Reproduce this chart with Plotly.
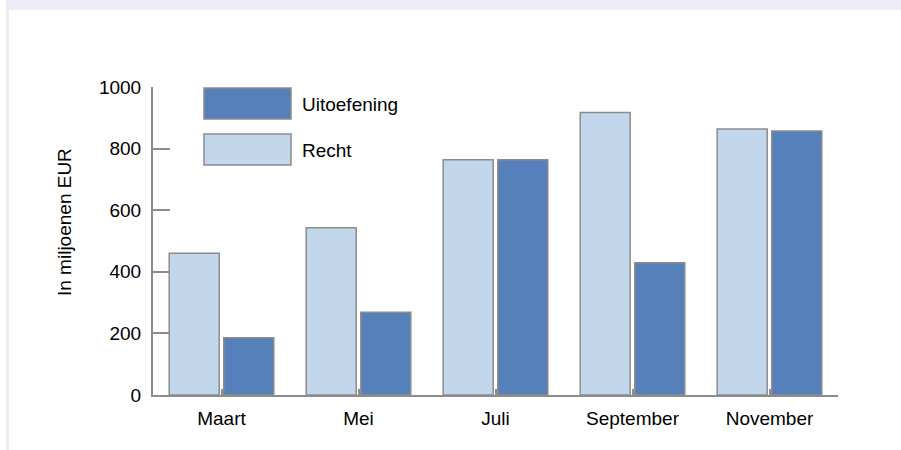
import plotly.graph_objects as go

categories = ["Maart", "Mei", "Juli", "September", "November"]
recht = [460, 543, 764, 917, 864]
uitoefening = [186, 269, 764, 429, 857]
y_ticks = [0, 200, 400, 600, 800, 1000]

W, H = 901, 450
L, R, T, B = 153, 63, 87, 55
pw, ph = W - L - R, H - T - B

def px(x):
    return (x - L) / pw

def py(y):
    return (H - B - y) / ph

c_recht = "#C3D7EC"
c_uit = "#5580BA"
edge = "#8C8C8C"
FS = 19

fig = go.Figure()
fig.add_trace(go.Bar(x=categories, y=recht, name="Recht", marker=dict(color=c_recht, line=dict(color=edge, width=1.5))))
fig.add_trace(go.Bar(x=categories, y=uitoefening, name="Uitoefening", marker=dict(color=c_uit, line=dict(color=edge, width=1.5))))

shapes = [
    dict(type="rect", xref="paper", yref="paper", x0=px(6), x1=px(901), y0=py(0), y1=py(10),
         fillcolor="#EEECF6", line=dict(width=0), layer="below"),
    dict(type="rect", xref="paper", yref="paper", x0=px(6), x1=px(9), y0=py(10), y1=py(450),
         fillcolor="#EEECF6", line=dict(width=0), layer="below"),
    dict(type="rect", xref="paper", yref="paper", x0=px(204), x1=px(291), y0=py(88), y1=py(119),
         fillcolor=c_uit, line=dict(color=edge, width=1.5)),
    dict(type="rect", xref="paper", yref="paper", x0=px(204), x1=px(291), y0=py(134), y1=py(165),
         fillcolor=c_recht, line=dict(color=edge, width=1.5)),
]
annotations = [
    dict(xref="paper", yref="paper", x=px(300), y=py(104), text="Uitoefening", showarrow=False,
         xanchor="left", yanchor="middle", font=dict(size=FS, color="#000")),
    dict(xref="paper", yref="paper", x=px(300), y=py(150), text="Recht", showarrow=False,
         xanchor="left", yanchor="middle", font=dict(size=FS, color="#000")),
    dict(xref="paper", yref="paper", x=px(64), y=py(222), text="In miljoenen EUR", showarrow=False,
         textangle=-90, xanchor="center", yanchor="middle", font=dict(size=FS, color="#000")),
]

fig.update_layout(
    width=W, height=H,
    margin=dict(l=L, r=R, t=T, b=B, pad=0),
    paper_bgcolor="white", plot_bgcolor="white",
    barmode="group", bargap=0.203, bargroupgap=0.084,
    showlegend=False,
    font=dict(family="Liberation Sans, Arial, sans-serif", size=FS, color="#000"),
    shapes=shapes, annotations=annotations,
    xaxis=dict(showline=True, linecolor=edge, linewidth=2, ticks="inside", ticklen=6,
               tickcolor=edge, tickwidth=2, showgrid=False, zeroline=False,
               tickfont=dict(size=FS), ticklabelstandoff=5),
    yaxis=dict(range=[0, 1000], tickvals=y_ticks, showline=True, linecolor=edge, linewidth=2,
               ticks="inside", ticklen=17, tickcolor=edge, tickwidth=2, showgrid=False,
               zeroline=False, tickfont=dict(size=FS), ticklabelstandoff=6),
)

fig.write_html("out.html", config={"displayModeBar": False},
               post_script="document.body.style.margin='0';document.body.style.overflow='hidden';")
